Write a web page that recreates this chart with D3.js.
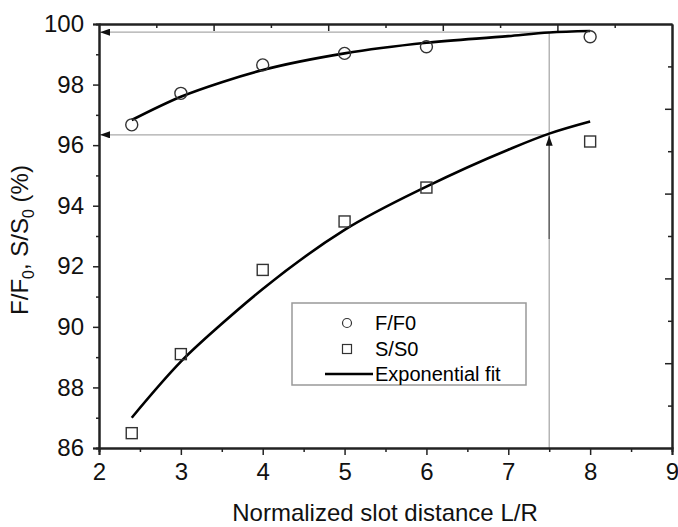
<!DOCTYPE html>
<html>
<head>
<meta charset="utf-8">
<script src="https://cdn.jsdelivr.net/npm/d3@7"></script>
<style>
  body { margin: 0; background: #fff; }
  svg { display: block; font-family: "Liberation Sans", Arial, sans-serif; }
</style>
</head>
<body>
<svg id="chart" width="678" height="527"></svg>
<script>
// Measured points
const distances = [2.4, 3, 4, 5, 6, 8];
const fRatio = [96.67, 97.71, 98.65, 99.03, 99.25, 99.58];
const sRatio = [86.49, 89.10, 91.88, 93.48, 94.60, 96.12];

// Exponential fit curves
const fitX = [2.4, 3, 3.5, 4, 5, 6, 7, 7.5, 8];
const fFit = [96.83, 97.6, 98.08, 98.48, 99.03, 99.38, 99.6, 99.72, 99.77];
const sFit = [87.0, 88.85, 90.1, 91.25, 93.2, 94.63, 95.85, 96.38, 96.78];

// Tick labels
const xTicks = [2, 3, 4, 5, 6, 7, 8, 9];
const yTicks = [86, 88, 90, 92, 94, 96, 98, 100];

// Reading lines at L/R = 7.5
const markX = 7.5;
const markF = 99.73;
const markS = 96.34;
const arrowFrom = 92.9;

const width = 678, height = 527;
const margin = { top: 24, right: 6, bottom: 79, left: 99 };

const svg = d3.select('#chart');

// Scales
const x = d3.scaleLinear().domain([2, 9]).range([margin.left, width - margin.right]);
const y = d3.scaleLinear().domain([86, 100]).range([height - margin.bottom, margin.top]);
// top and right frame carry 10 unlabelled divisions
const xTop = d3.scaleLinear().domain([0, 10]).range(x.range());
const yRight = d3.scaleLinear().domain([0, 10]).range(y.range());

// Arrow head
svg.append('defs').append('marker')
  .attr('id', 'head')
  .attr('markerUnits', 'userSpaceOnUse')
  .attr('markerWidth', 10)
  .attr('markerHeight', 7)
  .attr('refX', 10)
  .attr('refY', 3.5)
  .attr('orient', 'auto')
  .append('path')
  .attr('d', 'M0,0L10,3.5L0,7Z')
  .attr('fill', '#111');

// Gray reading lines
const guides = svg.append('g').attr('stroke', '#aaa').attr('stroke-width', 1.3).attr('fill', 'none');
guides.append('line')
  .attr('x1', x(markX)).attr('x2', x(markX))
  .attr('y1', y(86)).attr('y2', y(markF));
guides.append('line')
  .attr('x1', x(markX)).attr('x2', x(2) + 1)
  .attr('y1', y(markF)).attr('y2', y(markF))
  .attr('marker-end', 'url(#head)');
guides.append('line')
  .attr('x1', x(markX)).attr('x2', x(2) + 1)
  .attr('y1', y(markS)).attr('y2', y(markS))
  .attr('marker-end', 'url(#head)');
svg.append('line')
  .attr('x1', x(markX)).attr('x2', x(markX))
  .attr('y1', y(arrowFrom)).attr('y2', y(markS) + 1)
  .attr('stroke', '#666')
  .attr('stroke-width', 1.5)
  .attr('marker-end', 'url(#head)');

// Axes
function styleAxis(g) {
  g.selectAll('.domain').attr('stroke', '#222').attr('stroke-width', 2);
  g.selectAll('.tick line').attr('stroke', '#222').attr('stroke-width', 1.5);
  g.selectAll('.tick text').attr('fill', '#111').style('font-size', '24px');
}

svg.append('g')
  .attr('transform', 'translate(0,' + y(86) + ')')
  .call(d3.axisBottom(x).tickValues(d3.range(2.5, 9, 1)).tickSize(4).tickFormat(''))
  .call(styleAxis);
svg.append('g')
  .attr('transform', 'translate(0,' + y(86) + ')')
  .call(d3.axisBottom(x).tickValues(xTicks).tickSize(7).tickPadding(8).tickFormat(d3.format('d')))
  .call(styleAxis);

svg.append('g')
  .attr('transform', 'translate(' + x(2) + ',0)')
  .call(d3.axisLeft(y).tickValues(d3.range(87, 100, 2)).tickSize(3).tickFormat(''))
  .call(styleAxis);
svg.append('g')
  .attr('transform', 'translate(' + x(2) + ',0)')
  .call(d3.axisLeft(y).tickValues(yTicks).tickSize(6).tickPadding(9).tickFormat(d3.format('d')))
  .call(styleAxis);

// Top frame, ticks pointing inward
svg.append('g')
  .attr('transform', 'translate(0,' + y(100) + ')')
  .call(d3.axisBottom(xTop).tickValues(d3.range(1, 10, 2)).tickSize(4).tickSizeOuter(0).tickFormat(''))
  .call(styleAxis);
svg.append('g')
  .attr('transform', 'translate(0,' + y(100) + ')')
  .call(d3.axisBottom(xTop).tickValues(d3.range(2, 10, 2)).tickSize(7).tickSizeOuter(0).tickFormat(''))
  .call(styleAxis);

// Right frame, ticks pointing inward
svg.append('g')
  .attr('transform', 'translate(' + x(9) + ',0)')
  .call(d3.axisLeft(yRight).tickValues(d3.range(1, 10, 2)).tickSize(4).tickSizeOuter(0).tickFormat(''))
  .call(styleAxis);
svg.append('g')
  .attr('transform', 'translate(' + x(9) + ',0)')
  .call(d3.axisLeft(yRight).tickValues(d3.range(2, 10, 2)).tickSize(7).tickSizeOuter(0).tickFormat(''))
  .call(styleAxis);

// Fit curves
const line = d3.line()
  .x((d) => x(d[0]))
  .y((d) => y(d[1]))
  .curve(d3.curveMonotoneX);

[fFit, sFit].forEach((fit) => {
  svg.append('path')
    .datum(fitX.map((v, i) => [v, fit[i]]))
    .attr('d', line)
    .attr('fill', 'none')
    .attr('stroke', '#000')
    .attr('stroke-width', 2.6);
});

// Markers
svg.append('g').selectAll('circle')
  .data(distances.map((v, i) => [v, fRatio[i]]))
  .enter()
  .append('circle')
  .attr('cx', (d) => x(d[0]))
  .attr('cy', (d) => y(d[1]))
  .attr('r', 6)
  .attr('fill', 'none')
  .attr('stroke', '#333')
  .attr('stroke-width', 1.4);

svg.append('g').selectAll('rect')
  .data(distances.map((v, i) => [v, sRatio[i]]))
  .enter()
  .append('rect')
  .attr('x', (d) => x(d[0]) - 5.5)
  .attr('y', (d) => y(d[1]) - 5.5)
  .attr('width', 11)
  .attr('height', 11)
  .attr('fill', 'none')
  .attr('stroke', '#333')
  .attr('stroke-width', 1.4);

// Legend
const legend = svg.append('g').style('font-size', '20px');
legend.append('rect')
  .attr('x', 292).attr('y', 303)
  .attr('width', 234).attr('height', 82)
  .attr('fill', '#fff')
  .attr('stroke', '#999')
  .attr('stroke-width', 1.5);
legend.append('circle')
  .attr('cx', 347).attr('cy', 323).attr('r', 4.5)
  .attr('fill', 'none').attr('stroke', '#333').attr('stroke-width', 1.2);
legend.append('rect')
  .attr('x', 342.5).attr('y', 344.5).attr('width', 9).attr('height', 9)
  .attr('fill', 'none').attr('stroke', '#333').attr('stroke-width', 1.2);
legend.append('line')
  .attr('x1', 325).attr('x2', 373).attr('y1', 374).attr('y2', 374)
  .attr('stroke', '#000').attr('stroke-width', 2.6);
legend.append('text').attr('x', 375).attr('y', 330).text('F/F0');
legend.append('text').attr('x', 375).attr('y', 356).text('S/S0');
legend.append('text').attr('x', 375).attr('y', 381).text('Exponential fit');

// Axis titles
svg.append('text')
  .attr('x', 385)
  .attr('y', 521)
  .attr('text-anchor', 'middle')
  .style('font-size', '24px')
  .attr('fill', '#111')
  .text('Normalized slot distance L/R');

const yTitle = svg.append('text')
  .attr('transform', 'translate(28,240) rotate(-90)')
  .attr('text-anchor', 'middle')
  .style('font-size', '24px')
  .attr('fill', '#111');
yTitle.append('tspan').text('F/F');
yTitle.append('tspan').attr('dy', 6).style('font-size', '16px').text('0');
yTitle.append('tspan').attr('dy', -6).text(', S/S');
yTitle.append('tspan').attr('dy', 6).style('font-size', '16px').text('0');
yTitle.append('tspan').attr('dy', -6).text(' (%)');
</script>
</body>
</html>
